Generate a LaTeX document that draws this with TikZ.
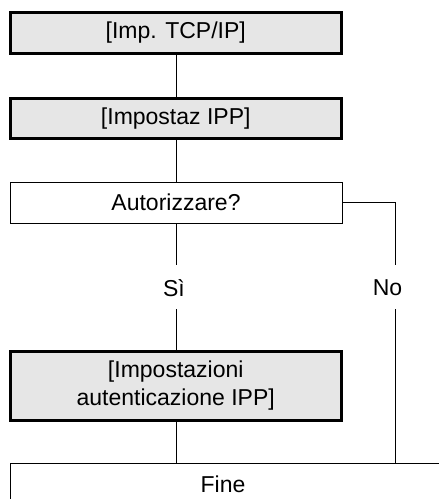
\documentclass[tikz,border=0pt]{standalone}
\usepackage{fontspec}
\setmainfont{Liberation Sans}
\definecolor{boxgray}{HTML}{E6E6E6}
\tikzset{
  x=1pt, y=-1pt,
  graybox/.style={draw=black, line width=3pt, fill=boxgray, inner sep=0pt, align=center},
  plainbox/.style={draw=black, line width=1pt, fill=white, inner sep=0pt},
  conn/.style={draw=black, line width=1pt},
  lbl/.style={inner sep=0pt, font=\fontsize{23}{26}\selectfont},
}
\begin{document}
\begin{tikzpicture}
\clip (0,0) rectangle (439,499);
\fill[white] (0,0) rectangle (439,499);
% boxes
\node[graybox, minimum width=331.5pt, minimum height=41pt, font=\fontsize{23}{26}\selectfont] (tcp) at (175.75,33) {[Imp. TCP/IP]};
\node[graybox, minimum width=331.5pt, minimum height=40pt, font=\fontsize{23}{26}\selectfont] (ipp) at (175.75,118.5) {[Impostaz IPP]};
\node[plainbox, minimum width=332pt, minimum height=41pt, font=\fontsize{23}{26}\selectfont] (auth) at (176,202.5) {Autorizzare?};
\node[graybox, minimum width=331.5pt, minimum height=69pt, font=\fontsize{23}{28}\selectfont] (ippauth) at (175.75,386) {[Impostazioni\\autenticazione IPP]};
% labels
\node[lbl] (si) at (174,288) {Sì};
\node[lbl] (no) at (387.5,288) {No};
\node[lbl] (fine) at (223,484) {Fine};
% Fine box (open to right and bottom)
\coordinate (fineTL) at (10,463);
\draw[conn] (445,463) -- (fineTL) -- (10,505);
% connector coordinates
\coordinate (siTop) at (176.7,265);
\coordinate (siBot) at (176.7,309);
\coordinate (noTop) at (395.7,265);
\coordinate (noBot) at (395.7,309);
% connectors
\draw[conn] (tcp.south -| siTop) -- (ipp.north -| siTop);
\draw[conn] (ipp.south -| siTop) -- (auth.north -| siTop);
\draw[conn] (auth.south -| siTop) -- (siTop);
\draw[conn] (siBot) -- (ippauth.north -| siBot);
\draw[conn] (ippauth.south -| siBot) -- (fineTL -| siBot);
\draw[conn] (auth.east) -| (noTop);
\draw[conn] (noBot) -- (fineTL -| noBot);
\end{tikzpicture}
\end{document}
